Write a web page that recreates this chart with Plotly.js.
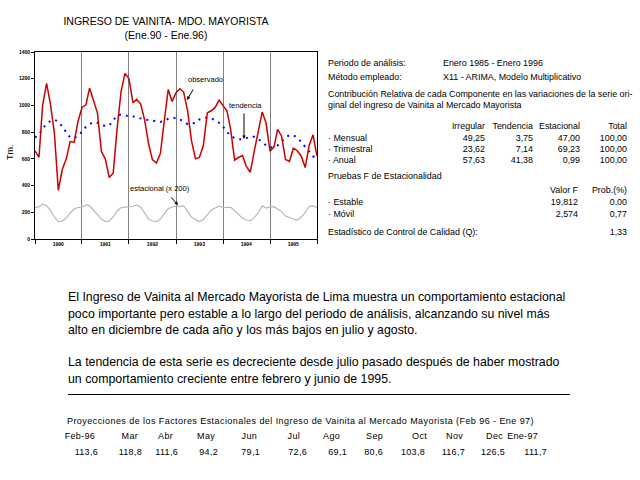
<!DOCTYPE html>
<html><head><meta charset="utf-8">
<script src="https://cdn.plot.ly/plotly-3.0.1.min.js"></script>
<style>
body{margin:0;background:#fff;}
#wrap{position:relative;width:640px;height:480px;overflow:hidden;font-family:"Liberation Sans",Arial,sans-serif;color:#000;background:#fff;}
#chart{position:absolute;left:0;top:0;width:640px;height:480px;}
.t{position:absolute;white-space:nowrap;line-height:1;}
</style></head><body>
<div id="wrap"><div id="chart"></div><div id="txt"></div></div>
<script>
// ---------------- DATA ----------------
const anios = [1990, 1991, 1992, 1993, 1994, 1995];
const etiquetasAnio = ['1990', '1991', '1992', '1993', '1994', '1995'];
const yTicks = [0, 200, 400, 600, 800, 1000, 1200, 1400];

// Ingreso observado (Tm.), Ene.90 - Ene.96
const observado = [660, 612, 1000, 1165, 1010, 790, 365, 520, 600, 730, 725, 880,
  985, 1005, 1130, 1035, 945, 655, 600, 460, 495, 830, 1105, 1240,
  1200, 1020, 1045, 1010, 895, 715, 594, 569, 640, 880, 1120, 1030,
  1095, 1125, 1100, 957, 735, 600, 610, 700, 945, 960, 985, 1040,
  1000, 957, 820, 590, 610, 625, 544, 500, 660, 807, 950, 870,
  657, 690, 820, 770, 595, 580, 680, 660, 620, 535, 700, 780, 620];

// Tendencia
const tendencia = [760, 780, 830, 860, 885, 892, 880, 840, 800, 760, 757, 770,
  805, 840, 860, 875, 870, 855, 845, 850, 890, 925, 932, 925,
  918, 918, 910, 900, 895, 890, 887, 882, 877, 885, 900, 905,
  907, 895, 880, 860, 865, 870, 895, 905, 910, 905, 890, 870,
  840, 800, 770, 757, 748, 745, 752, 765, 765, 750, 725, 700,
  685, 688, 700, 730, 760, 777, 777, 760, 720, 690, 655, 620, 600];

// Factor estacional (x 200)
const estacional = [235, 240, 262, 250, 215, 165, 128, 135, 157, 195, 224, 236,
  238, 255, 248, 215, 182, 150, 130, 135, 165, 210, 235, 238,
  237, 245, 255, 238, 195, 150, 135, 130, 150, 190, 228, 238,
  245, 244, 248, 205, 165, 145, 130, 145, 185, 215, 232, 246,
  236, 235, 237, 212, 180, 155, 142, 137, 160, 195, 248, 232,
  238, 242, 225, 205, 172, 158, 150, 142, 165, 198, 245, 250, 235];

// Contribución relativa
const filasContrib = ['· Mensual', '· Trimestral', '· Anual'];
const colIrregular = [49.25, 23.62, 57.63];
const colTendencia = [3.75, 7.14, 41.38];
const colEstacional = [47.00, 69.23, 0.99];
const colTotal = [100.00, 100.00, 100.00];

// Pruebas F
const filasF = ['· Estable', '· Móvil'];
const valorF = [19.812, 2.574];
const probF = [0.00, 0.77];
const estadisticoQ = 1.33;

// Proyecciones de factores estacionales
const projMeses = ['Feb-96', 'Mar', 'Abr', 'May', 'Jun', 'Jul', 'Ago', 'Sep', 'Oct', 'Nov', 'Dec', 'Ene-97'];
const projValores = [113.6, 118.8, 111.6, 94.2, 79.1, 72.6, 69.1, 80.6, 103.8, 116.7, 126.5, 111.7];

// ---------------- BUILD ----------------
const fechas = [];
anios.forEach(a => { for (let m = 1; m <= 12; m++) fechas.push(a + '-' + String(m).padStart(2, '0') + '-01'); });
fechas.push('1996-01-01');
const inicioAnio = anios.map(a => a + '-01-01').concat(['1996-01-01']);
const medioAnio = anios.map(a => a + '-07-01');

const FONT = '"Liberation Sans", Arial, sans-serif';
// pixel -> paper helpers for the plot area (l=35, w=282, t=52, h=187)
const PL = 35, PW = 282, PT = 52, PH = 187;
const px2x = p => (p - PL) / PW;
const py2y = p => (PT + PH - p) / PH;

const traces = [
  { x: fechas, y: estacional, type: 'scatter', mode: 'lines', name: 'estacional',
    line: { color: '#B8B8B8', width: 1.2 }, hoverinfo: 'skip' },
  { x: fechas, y: tendencia, type: 'scatter', mode: 'lines', name: 'tendencia',
    line: { color: '#0000FF', width: 2, dash: '2px,5px' }, hoverinfo: 'skip' },
  { x: fechas, y: observado, type: 'scatter', mode: 'lines', name: 'observado',
    line: { color: '#CC0000', width: 1.5 }, hoverinfo: 'skip' }
];

const annFont = { family: FONT, size: 7.5, color: '#000' };
function lab(text, px, py) {
  return { xref: 'paper', yref: 'paper', x: px2x(px), y: py2y(py), text: text, showarrow: false,
    xanchor: 'center', yanchor: 'middle', font: annFont };
}
function arrow(hx, hy, ax, ay) {
  return { xref: 'paper', yref: 'paper', x: px2x(hx), y: py2y(hy), text: '', showarrow: true,
    ax: ax, ay: ay, arrowhead: 2, arrowsize: 0.7, arrowwidth: 1, arrowcolor: '#000', standoff: 0 };
}
const layout = {
  width: 640, height: 480,
  margin: { l: PL, r: 640 - PL - PW, t: PT, b: 480 - PT - PH, pad: 0 },
  paper_bgcolor: 'rgba(0,0,0,0)', plot_bgcolor: '#fff',
  showlegend: false,
  font: { family: FONT, color: '#000' },
  title: { text: 'INGRESO DE VAINITA- MDO. MAYORISTA<br>(Ene.90 - Ene.96)',
    font: { family: FONT, size: 10.5, color: '#000' },
    x: 166 / 640, xanchor: 'center', y: 1 - 25 / 480, yanchor: 'middle', xref: 'container', yref: 'container' },
  xaxis: {
    type: 'date', range: ['1990-01-01', '1996-01-01'],
    tickmode: 'array', tickvals: medioAnio, ticktext: etiquetasAnio,
    ticks: '', showgrid: false, zeroline: false,
    tickfont: { family: FONT, size: 5, color: '#000', weight: 'bold' },
    showline: true, mirror: true, linecolor: '#000', linewidth: 1,
    minor: { tickmode: 'array', tickvals: inicioAnio, ticks: 'outside', ticklen: 4,
      tickcolor: '#000', showgrid: true, gridcolor: '#808080', gridwidth: 1 },
    fixedrange: true
  },
  yaxis: {
    range: [0, 1400], tickmode: 'array', tickvals: yTicks,
    ticks: 'outside', ticklen: 3, tickcolor: '#000',
    showgrid: false, zeroline: false,
    showline: true, mirror: true, linecolor: '#000', linewidth: 1,
    tickfont: { family: FONT, size: 5, color: '#000', weight: 'bold' },
    fixedrange: true
  },
  annotations: [
    { xref: 'paper', yref: 'paper', x: px2x(10), y: py2y(152), text: 'Tm.', textangle: -90,
      xanchor: 'center', yanchor: 'middle', showarrow: false, font: { family: FONT, size: 9, color: '#000' } },
    lab('observado', 205.5, 79.5), arrow(187, 100, 7, -12),
    lab('tendencia', 245, 105), arrow(244, 139, 0, -27),
    lab('estacional (x 200)', 160, 188), arrow(178, 205, -8, -9)
  ]
};

Plotly.newPlot('chart', traces, layout, { staticPlot: true, displayModeBar: false });

// ---------------- TEXT PANELS ----------------
const txt = document.getElementById('txt');
const fmt = (v, d) => v.toFixed(d).replace('.', ',');
function put(text, x, y, align, size, extra) {
  const d = document.createElement('div');
  d.className = 't';
  d.textContent = text;
  d.style.fontSize = size + 'px';
  d.style.left = x + 'px';
  d.style.top = y + 'px';
  d.style.transform = align === 'r' ? 'translate(-100%,-50%)' : (align === 'c' ? 'translate(-50%,-50%)' : 'translate(0,-50%)');
  if (extra) Object.assign(d.style, extra);
  txt.appendChild(d);
  return d;
}
// font size of right panel fitted to the long line width
const probe = put('Contribución Relativa de cada Componente en las variaciones de la serie ori-', -999, -999, 'l', 10);
const S = 10 * 305 / probe.getBoundingClientRect().width;
probe.remove();

put('Periodo de análisis:', 328, 62.5, 'l', S);
put('Enero 1985 - Enero 1996', 443, 62.5, 'l', S);
put('Método empleado:', 328, 77, 'l', S);
put('X11 - ARIMA, Modelo Multiplicativo', 443, 77, 'l', S);
put('Contribución Relativa de cada Componente en las variaciones de la serie ori-', 328, 93.5, 'l', S);
put('ginal del ingreso de Vainita al Mercado Mayorista', 328, 105, 'l', S);
const colX = [485, 533, 580, 627];
['Irregular', 'Tendencia', 'Estacional', 'Total'].forEach((h, i) => put(h, colX[i], 125.5, 'r', S));
const rowY = [137.5, 148.5, 159.5];
filasContrib.forEach((f, i) => {
  put(f, 328, rowY[i], 'l', S);
  put(fmt(colIrregular[i], 2), colX[0], rowY[i], 'r', S);
  put(fmt(colTendencia[i], 2), colX[1], rowY[i], 'r', S);
  put(fmt(colEstacional[i], 2), colX[2], rowY[i], 'r', S);
  put(fmt(colTotal[i], 2), colX[3], rowY[i], 'r', S);
});
put('Pruebas F de Estacionalidad', 328, 175.5, 'l', S);
put('Valor F', 578, 190, 'r', S);
put('Prob.(%)', 627, 190, 'r', S);
const fY = [202, 213.5];
filasF.forEach((f, i) => {
  put(f, 328, fY[i], 'l', S);
  put(fmt(valorF[i], 3), 578, fY[i], 'r', S);
  put(fmt(probF[i], 2), 627, fY[i], 'r', S);
});
put('Estadístico de Control de Calidad (Q):', 328, 231.5, 'l', S);
put(fmt(estadisticoQ, 2), 627, 231.5, 'r', S);

// paragraph
const parrafo = [
  ['El Ingreso de Vainita al Mercado Mayorista de Lima muestra un comportamiento estacional', 297],
  ['poco importante pero estable a lo largo del periodo de análisis, alcanzando su nivel más', 313.5],
  ['alto en diciembre de cada año y los más bajos en julio y agosto.', 330],
  ['La tendencia de esta serie es decreciente desde julio pasado después de haber mostrado', 362],
  ['un comportamiento creciente entre febrero y junio de 1995.', 378.5]
];
const pEls = parrafo.map(p => put(p[0], 68, p[1], 'l', 12));
const w1 = pEls[0].getBoundingClientRect().width;
const fsP = 12 * 498 / w1;
pEls.forEach(e => e.style.fontSize = fsP + 'px');

// rule
const rule = document.createElement('div');
Object.assign(rule.style, { position: 'absolute', left: '68px', top: '393.5px', width: '502px', height: '1px', background: '#000' });
txt.appendChild(rule);

// projections
const pt = put('Proyecciones de los Factores Estacionales del Ingreso de Vainita al Mercado Mayorista (Feb 96 - Ene 97)', 67, 421, 'l', 9);
const wt = pt.getBoundingClientRect().width;
pt.style.letterSpacing = ((467 - wt) / pt.textContent.length) + 'px';
const mesR = [95, 138, 173, 215, 257, 300, 340, 383, 427, 463, 503, 538];
const valR = [98, 142, 178, 218, 260, 307, 347, 383, 425, 465, 505, 547];
projMeses.forEach((m, i) => put(m, mesR[i], 436, 'r', 9, { letterSpacing: '0.3px' }));
projValores.forEach((v, i) => put(fmt(v, 1), valR[i], 452, 'r', 9, { letterSpacing: '0.3px' }));
</script>
</body></html>
